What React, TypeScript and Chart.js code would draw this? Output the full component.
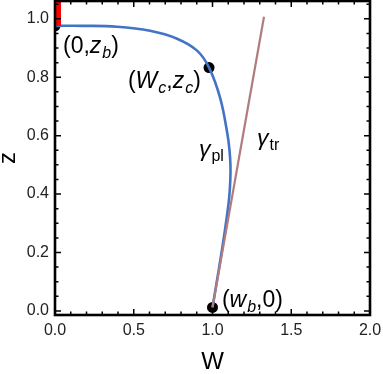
import React, { useEffect, useRef } from 'react';
import { Chart, registerables } from 'chart.js';

Chart.register(...registerables);

// gamma_pl curve (W, z)
const plW = [0, 0.178, 0.394, 0.603, 0.775, 0.902, 0.978, 1.048, 1.094, 1.108, 1.114, 1.113, 1.106, 1.094, 1.064, 1.029, 1.0];
const plZ = [0.976, 0.976, 0.973, 0.959, 0.932, 0.891, 0.833, 0.73, 0.608, 0.55, 0.498, 0.447, 0.389, 0.334, 0.222, 0.106, 0.012];
// gamma_tr line
const trW = [1.0, 1.327];
const trZ = [0.012, 1.007];
// red segment on W = 0
const redW = [0, 0];
const redZ = [0.976, 1.1];
// marked points: (0,z_b), (W_c,z_c), (w_b,0)
const dotW = [0, 0.978, 1.0];
const dotZ = [0.976, 0.833, 0.012];

const xMajor = [0, 0.5, 1.0, 1.5, 2.0];
const xMinor = [0.1, 0.2, 0.3, 0.4, 0.6, 0.7, 0.8, 0.9, 1.1, 1.2, 1.3, 1.4, 1.6, 1.7, 1.8, 1.9];
const yMajor = [0, 0.2, 0.4, 0.6, 0.8, 1.0];
const yMinor = [0.05, 0.1, 0.15, 0.25, 0.3, 0.35, 0.45, 0.5, 0.55, 0.65, 0.7, 0.75, 0.85, 0.9, 0.95, 1.05];

const X_MIN = 0;
const X_MAX = 2.0;
const Y_MIN = -0.014;
const Y_MAX = 1.061;

const FAMILY = '"Liberation Sans", Arial, Helvetica, sans-serif';

type Part = [string, 'n' | 'i' | 'is' | 's'];
const annotations: { w: number; z: number; parts: Part[] }[] = [
  { w: 0.051, z: 0.884, parts: [['(0,', 'n'], ['z', 'i'], ['b', 'is'], [')', 'n']] },
  { w: 0.463, z: 0.763, parts: [['(', 'n'], ['W', 'i'], ['c', 'is'], [',', 'n'], ['z', 'i'], ['c', 'is'], [')', 'n']] },
  { w: 0.914, z: 0.529, parts: [['\u03B3', 'i'], ['pl', 's']] },
  { w: 1.283, z: 0.567, parts: [['\u03B3', 'i'], ['tr', 's']] },
  { w: 1.06, z: 0.012, parts: [['(', 'n'], ['w', 'i'], ['b', 'is'], [',0)', 'n']] },
];

const pts = (xs: number[], ys: number[]) => xs.map((x, i) => ({ x, y: ys[i] }));

const framePlugin = {
  id: 'frameTicks',
  afterDatasetsDraw(chart: any) {
    const { ctx, chartArea: a, scales } = chart;
    const xs = scales.x;
    const ys = scales.y;
    ctx.save();
    ctx.strokeStyle = '#000';
    ctx.lineWidth = 1.5;
    ctx.beginPath();
    const xt = (vals: number[], len: number) => {
      vals.forEach((v) => {
        const px = xs.getPixelForValue(v);
        ctx.moveTo(px, a.bottom);
        ctx.lineTo(px, a.bottom - len);
        ctx.moveTo(px, a.top);
        ctx.lineTo(px, a.top + len);
      });
    };
    const yt = (vals: number[], len: number) => {
      vals.forEach((v) => {
        const py = ys.getPixelForValue(v);
        ctx.moveTo(a.left, py);
        ctx.lineTo(a.left + len, py);
        ctx.moveTo(a.right, py);
        ctx.lineTo(a.right - len, py);
      });
    };
    xt(xMajor, 6);
    xt(xMinor, 3.5);
    yt(yMajor, 6);
    yt(yMinor, 3.5);
    ctx.stroke();
    ctx.lineWidth = 2.6;
    ctx.strokeRect(a.left, a.top, a.right - a.left, a.bottom - a.top);
    ctx.restore();
  },
  afterDraw(chart: any) {
    const { ctx, scales } = chart;
    ctx.save();
    ctx.fillStyle = '#000';
    ctx.textBaseline = 'alphabetic';
    ctx.textAlign = 'left';
    annotations.forEach((ann) => {
      let x = scales.x.getPixelForValue(ann.w);
      const y = scales.y.getPixelForValue(ann.z);
      ann.parts.forEach(([t, st]) => {
        let dy = 0;
        if (st === 'n') ctx.font = `23px ${FAMILY}`;
        else if (st === 'i') ctx.font = `italic 23px ${FAMILY}`;
        else if (st === 'is') { ctx.font = `italic 16px ${FAMILY}`; dy = 5; }
        else { ctx.font = `16px ${FAMILY}`; dy = 5; }
        ctx.fillText(t, x, y + dy);
        x += ctx.measureText(t).width + (st === 'i' ? 1 : 0);
      });
    });
    ctx.restore();
  },
};

export default function App() {
  const ref = useRef<HTMLCanvasElement | null>(null);
  useEffect(() => {
    if (!ref.current) return;
    const chart = new Chart(ref.current, {
      type: 'scatter',
      data: {
        datasets: [
          {
            data: pts(redW, redZ),
            showLine: true,
            borderColor: '#FF0000',
            borderWidth: 12,
            pointRadius: 0,
            borderCapStyle: 'butt',
          },
          {
            data: pts(trW, trZ),
            showLine: true,
            borderColor: '#B07C7C',
            borderWidth: 2.2,
            pointRadius: 0,
          },
          {
            data: pts(plW, plZ),
            showLine: true,
            borderColor: '#4373C6',
            borderWidth: 2.6,
            pointRadius: 0,
            tension: 0.4,
          },
          {
            data: pts(dotW, dotZ),
            showLine: false,
            pointRadius: 5.5,
            pointBackgroundColor: '#000',
            pointBorderColor: '#000',
            pointBorderWidth: 0,
          },
        ],
      } as any,
      options: {
        animation: false,
        responsive: false,
        devicePixelRatio: 1,
        layout: { padding: { top: 1, right: 13, bottom: 0, left: 0 }, autoPadding: false },
        plugins: { legend: { display: false }, tooltip: { enabled: false } },
        scales: {
          x: {
            type: 'linear',
            min: X_MIN,
            max: X_MAX,
            grid: { display: false, drawTicks: false },
            border: { display: false },
            afterBuildTicks: (s: any) => { s.ticks = xMajor.map((v) => ({ value: v })); },
            afterFit: (s: any) => { s.height = 59; s.paddingLeft = 0; s.paddingRight = 0; },
            ticks: {
              padding: 6,
              color: '#222',
              font: { size: 16, family: FAMILY },
              maxRotation: 0,
              callback: (v: any) => Number(v).toFixed(1),
            },
            title: {
              display: true,
              text: 'W',
              color: '#000',
              font: { size: 24, family: FAMILY, lineHeight: 1 },
              padding: { top: 3.5, bottom: 0 },
            },
          },
          y: {
            type: 'linear',
            min: Y_MIN,
            max: Y_MAX,
            grid: { display: false, drawTicks: false },
            border: { display: false },
            afterBuildTicks: (s: any) => { s.ticks = yMajor.map((v) => ({ value: v })); },
            afterFit: (s: any) => { s.width = 55; s.paddingTop = 0; s.paddingBottom = 0; },
            ticks: {
              padding: 6,
              color: '#222',
              font: { size: 16, family: FAMILY },
              callback: (v: any) => Number(v).toFixed(1),
            },
            title: {
              display: true,
              text: 'z',
              color: '#000',
              font: { size: 24, family: FAMILY, lineHeight: 1 },
              padding: { top: -4, bottom: 0 },
            },
          },
        },
      } as any,
      plugins: [framePlugin],
    });
    return () => chart.destroy();
  }, []);
  return (
    <div style={{ position: 'absolute', left: 0, top: 0, width: 383, height: 374, background: '#fff' }}>
      <canvas ref={ref} width={383} height={374} style={{ width: 383, height: 374, display: 'block' }} />
    </div>
  );
}
